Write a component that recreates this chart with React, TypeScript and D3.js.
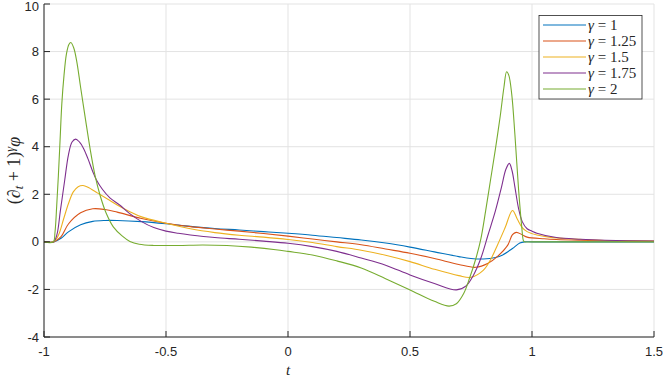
import React from "react";
import * as d3 from "d3";

// values, [t, value]
const gamma1 = [
  [-1, 0], [-0.96, 0], [-0.93, 0.15], [-0.9, 0.42], [-0.85, 0.72], [-0.8, 0.86],
  [-0.75, 0.9], [-0.7, 0.9], [-0.6, 0.85], [-0.5, 0.76], [-0.4, 0.65], [-0.3, 0.56],
  [-0.2, 0.5], [-0.1, 0.43], [0, 0.36], [0.1, 0.28], [0.2, 0.18], [0.3, 0.08],
  [0.4, -0.05], [0.5, -0.22], [0.6, -0.42], [0.7, -0.62], [0.75, -0.7], [0.8, -0.72],
  [0.85, -0.66], [0.88, -0.55], [0.92, -0.28], [0.95, -0.05], [0.97, 0], [1.0, 0], [1.5, 0],
];
const gamma125 = [
  [-1, 0], [-0.96, 0], [-0.93, 0.22], [-0.9, 0.75], [-0.85, 1.22], [-0.8, 1.39],
  [-0.75, 1.36], [-0.7, 1.25], [-0.6, 0.98], [-0.5, 0.78], [-0.4, 0.64], [-0.3, 0.54],
  [-0.2, 0.45], [-0.1, 0.35], [0, 0.24], [0.1, 0.12], [0.2, 0], [0.3, -0.12],
  [0.4, -0.3], [0.5, -0.48], [0.6, -0.7], [0.7, -0.95], [0.77, -1.07], [0.82, -0.9],
  [0.86, -0.6], [0.9, -0.15], [0.92, 0.3], [0.935, 0.4], [0.96, 0.3], [0.98, 0.2],
  [1.05, 0.13], [1.1, 0.1], [1.2, 0.07], [1.3, 0.05], [1.5, 0.02],
];
const gamma15 = [
  [-1, 0], [-0.96, 0], [-0.94, 0.3], [-0.92, 0.95], [-0.9, 1.6], [-0.88, 2.1],
  [-0.86, 2.32], [-0.84, 2.37], [-0.82, 2.3], [-0.78, 2.05], [-0.74, 1.8], [-0.7, 1.55],
  [-0.65, 1.28], [-0.6, 1.05], [-0.5, 0.78], [-0.4, 0.55], [-0.3, 0.39], [-0.2, 0.28],
  [-0.1, 0.2], [0, 0.1], [0.1, -0.03], [0.2, -0.2], [0.3, -0.35], [0.4, -0.56],
  [0.5, -0.83], [0.6, -1.15], [0.7, -1.42], [0.75, -1.49], [0.8, -1.2], [0.83, -0.75],
  [0.86, -0.1], [0.89, 0.6], [0.92, 1.32], [0.94, 0.95], [0.96, 0.6], [0.98, 0.43],
  [1.02, 0.29], [1.07, 0.2], [1.15, 0.13], [1.25, 0.08], [1.35, 0.05], [1.5, 0.03],
];
const gamma175 = [
  [-1, 0], [-0.96, 0], [-0.947, 0.3], [-0.933, 1.3], [-0.915, 2.6], [-0.9, 3.65],
  [-0.885, 4.2], [-0.87, 4.32], [-0.855, 4.2], [-0.839, 3.95], [-0.82, 3.5], [-0.8, 2.95],
  [-0.785, 2.6], [-0.76, 2.2], [-0.73, 1.85], [-0.69, 1.55], [-0.65, 1.2], [-0.6, 0.85],
  [-0.55, 0.6], [-0.5, 0.45], [-0.45, 0.36], [-0.4, 0.29], [-0.3, 0.18], [-0.2, 0.11],
  [-0.1, 0.03], [0, -0.06], [0.1, -0.2], [0.2, -0.4], [0.3, -0.68], [0.4, -0.98],
  [0.5, -1.39], [0.6, -1.75], [0.69, -2.02], [0.73, -1.85], [0.76, -1.4], [0.79, -0.7],
  [0.82, 0.3], [0.85, 1.3], [0.875, 2.3], [0.893, 3.05], [0.907, 3.3], [0.918, 3.0],
  [0.93, 2.3], [0.945, 1.4], [0.96, 0.85], [0.98, 0.55], [1.0, 0.45], [1.02, 0.36],
  [1.1, 0.18], [1.2, 0.11], [1.3, 0.07], [1.5, 0.03],
];
const gamma2 = [
  [-1, 0], [-0.962, 0], [-0.955, 0.4], [-0.948, 1.5], [-0.941, 2.8], [-0.934, 4.3],
  [-0.927, 5.8], [-0.918, 7.0], [-0.908, 7.9], [-0.898, 8.3], [-0.89, 8.38], [-0.878, 8.15],
  [-0.866, 7.6], [-0.85, 6.5], [-0.83, 5.15], [-0.81, 3.85], [-0.79, 2.75], [-0.77, 1.95],
  [-0.745, 1.2], [-0.716, 0.63], [-0.68, 0.25], [-0.648, 0.02], [-0.61, -0.1],
  [-0.55, -0.15], [-0.45, -0.15], [-0.35, -0.13], [-0.25, -0.15], [-0.15, -0.22],
  [-0.05, -0.33], [0, -0.4], [0.1, -0.55], [0.2, -0.8], [0.3, -1.1], [0.4, -1.55],
  [0.5, -2.02], [0.6, -2.5], [0.66, -2.7], [0.69, -2.6], [0.72, -2.17], [0.745, -1.5],
  [0.77, -0.7], [0.79, 0.1], [0.81, 1.3], [0.83, 2.6], [0.85, 3.9], [0.87, 5.3],
  [0.885, 6.5], [0.896, 7.15], [0.905, 7.0], [0.917, 6.2], [0.93, 4.5], [0.945, 2.2],
  [0.958, 0.63], [0.965, 0.05], [0.97, 0], [1.0, 0], [1.5, 0],
];

const seriesData = [gamma1, gamma125, gamma15, gamma175, gamma2];
const seriesLabels = ["1", "1.25", "1.5", "1.75", "2"];
const colors = ["#0072BD", "#D95319", "#EDB120", "#7E2F8E", "#77AC30"];
const xTicks = [-1, -0.5, 0, 0.5, 1, 1.5];
const yTicks = [-4, -2, 0, 2, 4, 6, 8, 10];

const width = 664;
const height = 379;
const marginLeft = 44;
const marginRight = 10;
const marginTop = 4;
const marginBottom = 42;

const axisColor = "#262626";
const gridColor = "#e3e3e3";
const tickFont = { fontFamily: "'Liberation Sans', Arial, Helvetica, sans-serif" };
const texFont = { fontFamily: "'Liberation Serif', 'DejaVu Serif', serif" };

export default function App() {
  const x = d3.scaleLinear([-1, 1.5], [marginLeft, width - marginRight]);
  const y = d3.scaleLinear([-4, 10], [height - marginBottom, marginTop]);

  const line = d3
    .line<number[]>()
    .x((d) => x(d[0]))
    .y((d) => y(d[1]))
    .curve(d3.curveCatmullRom.alpha(0.5));

  const x0 = marginLeft;
  const y0 = height - marginBottom;

  const legX = 539;
  const legY = 15.5;
  const legW = 103;
  const legH = 83.5;
  const rowH = 16;

  return (
    <svg
      width={width}
      height={height}
      style={{ position: "absolute", left: 0, top: 0, background: "#fff" }}
    >
      {/* grid */}
      <g stroke={gridColor} strokeWidth={1}>
        {xTicks.map((t) => (
          <line key={"gx" + t} x1={x(t)} x2={x(t)} y1={y(10)} y2={y0} />
        ))}
        {yTicks.map((t) => (
          <line key={"gy" + t} x1={x0} x2={x(1.5)} y1={y(t)} y2={y(t)} />
        ))}
      </g>

      {/* curves */}
      <g fill="none" strokeWidth={1.1}>
        {seriesData.map((s, i) => (
          <path key={i} d={line(s as number[][]) || ""} stroke={colors[i]} />
        ))}
      </g>

      {/* axes */}
      <g stroke={axisColor} strokeWidth={1}>
        <line x1={x0} x2={x0} y1={y(10)} y2={y0} />
        <line x1={x0} x2={x(1.5)} y1={y0} y2={y0} />
        {yTicks.map((t) => (
          <line key={"ty" + t} x1={x0} x2={x0 + 6} y1={y(t)} y2={y(t)} />
        ))}
        {xTicks.map((t) => (
          <line key={"tx" + t} x1={x(t)} x2={x(t)} y1={y0} y2={y0 - 6} />
        ))}
      </g>
      <g fill={axisColor} style={tickFont} fontSize={13}>
        {yTicks.map((t) => (
          <text key={"ly" + t} x={x0 - 5} y={Math.max(y(t) + 4.5, 10.5)} textAnchor="end">
            {String(t)}
          </text>
        ))}
        {xTicks.map((t) => (
          <text key={"lx" + t} x={x(t)} y={y0 + 19} textAnchor="middle">
            {String(t)}
          </text>
        ))}
      </g>

      {/* axis labels */}
      <text
        x={x(0)}
        y={y0 + 38}
        textAnchor="middle"
        style={texFont}
        fontStyle="italic"
        fontSize={15}
        fill={axisColor}
      >
        t
      </text>
      <text
        transform={`translate(20,${(marginTop + y0) / 2}) rotate(-90)`}
        textAnchor="middle"
        style={texFont}
        fontSize={18}
        fill={axisColor}
      >
        (∂
        <tspan fontStyle="italic" fontSize={12.5} dy={3}>t</tspan>
        <tspan dy={-3}> + 1)</tspan>
        <tspan fontStyle="italic" fontSize={12.5} dy={-6}>γ</tspan>
        <tspan fontStyle="italic" dy={6}>φ</tspan>
      </text>

      {/* legend */}
      <rect
        x={legX}
        y={legY}
        width={legW}
        height={legH}
        fill="#fff"
        stroke={axisColor}
        strokeWidth={0.8}
      />
      {seriesLabels.map((lab, i) => {
        const ry = legY + 9.5 + i * rowH;
        return (
          <g key={lab}>
            <line x1={legX + 4} x2={legX + 47} y1={ry} y2={ry} stroke={colors[i]} strokeWidth={1.1} />
            <text x={legX + 49} y={ry + 4.5} style={texFont} fontSize={15} fill={axisColor}>
              <tspan fontStyle="italic">γ</tspan>
              {" = " + lab}
            </text>
          </g>
        );
      })}
    </svg>
  );
}
